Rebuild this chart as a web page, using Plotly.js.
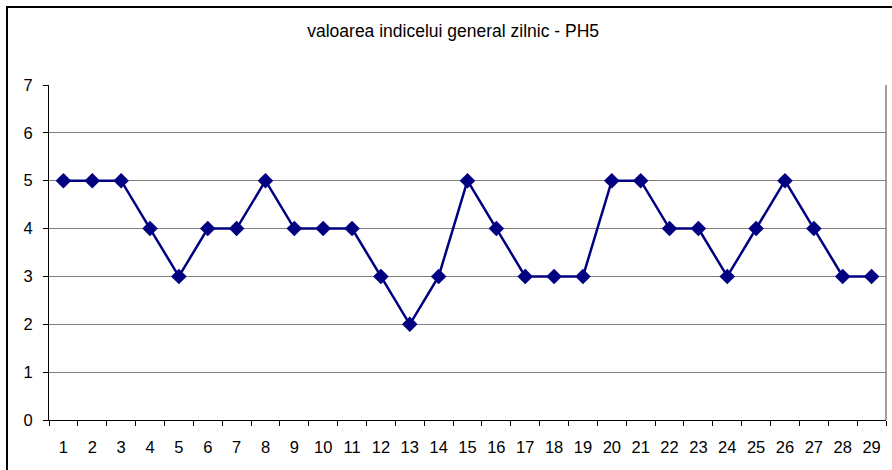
<!DOCTYPE html>
<html>
<head>
<meta charset="utf-8">
<script src="https://cdn.plot.ly/plotly-3.0.1.min.js"></script>
<style>
html,body{margin:0;padding:0;background:#fff;}
#wrap{position:relative;width:892px;height:470px;overflow:hidden;}
#chart{position:absolute;left:0;top:0;width:892px;height:470px;}
#frame{position:absolute;left:6px;top:6px;width:950px;height:520px;border:2px solid #000;pointer-events:none;}
</style>
</head>
<body>
<div id="wrap">
<div id="chart"></div>
<div id="frame"></div>
</div>
<script>
var days = [1,2,3,4,5,6,7,8,9,10,11,12,13,14,15,16,17,18,19,20,21,22,23,24,25,26,27,28,29];
var values = [5,5,5,4,3,4,4,5,4,4,4,3,2,3,5,4,3,3,3,5,5,4,4,3,4,5,4,3,3];
var yTicks = [0,1,2,3,4,5,6,7];
var chartTitle = 'valoarea indicelui general zilnic - PH5';

var font = 'Liberation Sans, Arial, sans-serif';

Plotly.newPlot('chart', [{
  x: days,
  y: values,
  type: 'scatter',
  mode: 'lines+markers',
  line: {color: '#000080', width: 2.5},
  marker: {symbol: 'diamond', size: 12, color: '#000080'},
  hoverinfo: 'x+y'
}], {
  width: 892,
  height: 470,
  margin: {l: 49, r: 6, t: 85, b: 50},
  paper_bgcolor: '#fff',
  plot_bgcolor: '#fff',
  showlegend: false,
  title: {
    text: chartTitle,
    font: {family: font, size: 17.5, color: '#000'},
    xref: 'container', x: 0.508, xanchor: 'center',
    yref: 'container', y: 0.934, yanchor: 'middle'
  },
  xaxis: {
    range: [0.5, 29.5],
    tickvals: days,
    ticktext: days.map(String),
    ticks: '',
    ticklabelstandoff: 12,
    showgrid: false,
    zeroline: false,
    showline: true,
    linecolor: '#000',
    linewidth: 1,
    tickfont: {family: font, size: 16.5, color: '#000'},
    minor: {tickmode: 'linear', tick0: 0.5, dtick: 1, ticks: 'outside', ticklen: 5, tickcolor: '#000', tickwidth: 1, showgrid: false},
    fixedrange: true
  },
  yaxis: {
    range: [0, 7],
    tickvals: yTicks,
    ticks: 'outside',
    ticklen: 5,
    ticklabelstandoff: 7,
    tickcolor: '#000',
    showgrid: true,
    gridcolor: '#808080',
    gridwidth: 1,
    zeroline: false,
    showline: true,
    linecolor: '#000',
    linewidth: 1,
    tickfont: {family: font, size: 16.5, color: '#000'},
    fixedrange: true
  },
  shapes: [{
    type: 'line', xref: 'paper', yref: 'paper',
    x0: 1, x1: 1, y0: 0, y1: 1,
    line: {color: '#808080', width: 1.5}
  }]
}, {displayModeBar: false, staticPlot: true});
</script>
</body>
</html>
